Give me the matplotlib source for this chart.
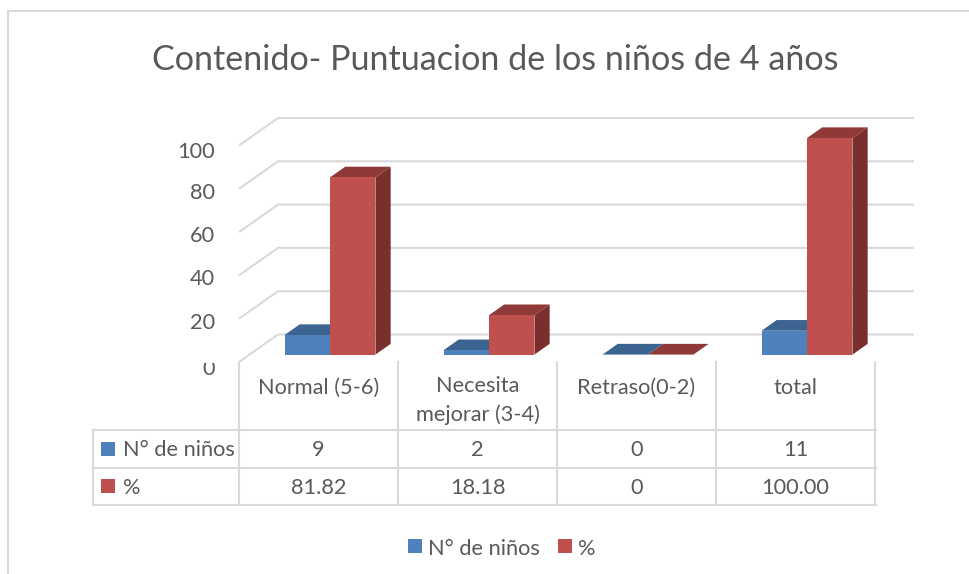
import matplotlib
matplotlib.use("Agg")
import matplotlib.pyplot as plt
from matplotlib.patches import Polygon, Rectangle
from matplotlib.transforms import Bbox

plt.rcParams['font.family'] = ['Lato', 'DejaVu Sans']

title = "Contenido- Puntuacion de los niños de 4 años"
categories = ["Normal (5-6)", "Necesita\nmejorar (3-4)", "Retraso(0-2)", "total"]
series_names = ["N° de niños", "%"]
ninos = [9, 2, 0, 11]
porcentaje = [81.82, 18.18, 0, 100.00]
ninos_labels = ["9", "2", "0", "11"]
porcentaje_labels = ["81.82", "18.18", "0", "100.00"]
y_ticks = [0, 20, 40, 60, 80, 100]

W, H = 970, 574
TEXT = "#595959"
GRID = "#D9D9D9"
BLUE = ("#4F81BD", "#3B6491", "#335A83")
RED = ("#C0504D", "#8F3A38", "#7B2F2D")
FS = 15.7

fig = plt.figure(figsize=(W / 100, H / 100), dpi=100, facecolor="white")

# page layer in pixel coordinates for frame, table and legend
page = fig.add_axes([0, 0, 1, 1], zorder=0)
page.set_xlim(0, W)
page.set_ylim(H, 0)
page.axis("off")

# chart layer: x in categories, y in values
x0, x1 = 239.0, 875.0
y0, y100 = 362.0, 145.5
ax = fig.add_axes([x0 / W, 1 - y0 / H, (x1 - x0) / W, (y0 - y100) / H], zorder=1)
ax.set_xlim(0, len(categories))
ax.set_ylim(0, 100)
ax.axis("off")
ax.patch.set_alpha(0)

DX = 39.0 / ((x1 - x0) / len(categories))   # floor depth in category units
DY = 27.5 / ((y0 - y100) / 100)             # floor depth in value units
D_FRONT, D_BACK = 0.27, 0.66
BAR_W = 0.286
GROUP_START = 0.22


def shift(x, y, d):
    return (x + DX * d, y + DY * d)


# gridlines: side wall then back wall
for v in y_ticks:
    pts = [shift(0, v, 0), shift(0, v, 1), shift(len(categories), v, 1)]
    ax.plot(*zip(*pts), color=GRID, lw=1.5, clip_on=False, zorder=1,
            solid_joinstyle="miter", solid_capstyle="butt")


def bar3d(xl, h, cols):
    face, top, side = cols
    xr = xl + BAR_W
    ax.add_patch(Polygon([shift(xr, 0, D_FRONT), shift(xr, 0, D_BACK),
                          shift(xr, h, D_BACK), shift(xr, h, D_FRONT)],
                         closed=True, fc=side, ec="none", clip_on=False, zorder=3))
    ax.add_patch(Polygon([shift(xl, h, D_FRONT), shift(xl, h, D_BACK),
                          shift(xr, h, D_BACK), shift(xr, h, D_FRONT)],
                         closed=True, fc=top, ec="none", clip_on=False, zorder=3))
    if h > 0:
        ax.add_patch(Polygon([shift(xl, 0, D_FRONT), shift(xr, 0, D_FRONT),
                              shift(xr, h, D_FRONT), shift(xl, h, D_FRONT)],
                             closed=True, fc=face, ec="none", clip_on=False, zorder=3))


for i in range(len(categories)):
    bar3d(i + GROUP_START, ninos[i], BLUE)
    bar3d(i + GROUP_START + BAR_W, porcentaje[i], RED)

# value axis labels
tick_offsets = {0: -7, 20: -4, 40: -4, 60: -4, 80: -4, 100: -7}
for v in y_ticks:
    t = ax.annotate(str(v), xy=(0, v), xytext=(-24, tick_offsets[v]), textcoords="offset pixels",
                    ha="right", va="center", fontsize=15.7, color=TEXT,
                    annotation_clip=False)
    if v == 0:
        t.set_clip_on(True)
        t.set_clip_box(Bbox([[0, 0], [W, H - 363]]))

# title
page.text(495, 60, title, ha="center", va="center", fontsize=24.6, color=TEXT)

# chart frame
page.plot([8.5, 8.5, W], [H, 11, 11], color=GRID, lw=1.5, solid_joinstyle="miter")

# data table
col = (x1 - x0) / len(categories)
tx = [x0 + i * col for i in range(len(categories) + 1)]
for x in tx:
    page.plot([x, x], [362, 505], color=GRID, lw=1.5)
for y in (429.5, 467.5, 505):
    page.plot([93, x1 + 1], [y, y], color=GRID, lw=1.5)
page.plot([93, 93], [429.5, 505], color=GRID, lw=1.5)

rows_y = [448.5, 486]
row_labels = [ninos_labels, porcentaje_labels]
for name, y, cols, labels in zip(series_names, rows_y, (BLUE, RED), row_labels):
    page.add_patch(Rectangle((101, y - 7), 14, 14, fc=cols[0], ec="none"))
    page.text(123, y + 2, name, ha="left", va="center", fontsize=FS, color=TEXT)
    for i, s in enumerate(labels):
        page.text(tx[i] + col / 2, y + 2, s, ha="center", va="center", fontsize=FS, color=TEXT)

for i, c in enumerate(categories):
    if "\n" in c:
        a, b = c.split("\n")
        page.text(tx[i] + col / 2, 386, a, ha="center", va="center", fontsize=FS, color=TEXT)
        page.text(tx[i] + col / 2, 415, b, ha="center", va="center", fontsize=FS, color=TEXT)
    else:
        page.text(tx[i] + col / 2, 388, c, ha="center", va="center", fontsize=FS, color=TEXT)

# legend
page.add_patch(Rectangle((408, 539), 14, 14, fc=BLUE[0], ec="none"))
page.text(428, 549, series_names[0], ha="left", va="center", fontsize=FS, color=TEXT)
page.add_patch(Rectangle((558, 539), 14, 14, fc=RED[0], ec="none"))
page.text(578, 549, series_names[1], ha="left", va="center", fontsize=FS, color=TEXT)

fig.savefig("out.png", dpi=100, facecolor="white")
